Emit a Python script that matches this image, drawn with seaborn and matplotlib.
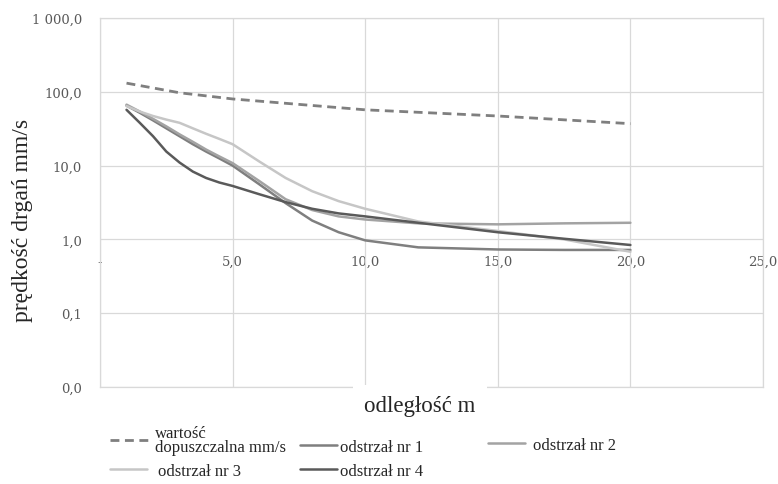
import pandas as pd
import matplotlib
matplotlib.use("Agg")
import matplotlib.pyplot as plt
import seaborn as sns

# DATA
dist_limit = [1, 3, 5, 10, 15, 20]
limit_vals = [131, 97, 80, 57, 47, 37]

dist_shot = [1, 1.5, 2, 2.5, 3, 3.5, 4, 4.5, 5, 6, 7, 8, 9, 10, 12, 15, 17.5, 20]
shot_1 = [65, 52, 41, 32, 25, 19.5, 15.5, 12.5, 10, 5.6, 3.1, 1.8, 1.25, 0.97, 0.78, 0.73, 0.72, 0.72]
shot_2 = [67, 54, 43, 34, 26.5, 21, 16.5, 13.3, 10.8, 6.2, 3.5, 2.5, 2.05, 1.86, 1.65, 1.6, 1.65, 1.68]
shot_3 = [64, 54, 47, 42, 38, 32, 27, 23, 19.5, 11.4, 6.8, 4.5, 3.3, 2.6, 1.75, 1.3, 1.0, 0.68]
shot_4 = [57, 38, 25, 15.5, 11, 8.3, 6.8, 5.9, 5.3, 4.1, 3.2, 2.6, 2.25, 2.05, 1.68, 1.25, 1.02, 0.84]

limit_label = "wartość\ndopuszczalna mm/s"
shot_labels = ["odstrzał nr 1", "odstrzał nr 2", "odstrzał nr 3", "odstrzał nr 4"]
shot_colors = ["#7f7f7f", "#a3a3a3", "#c6c6c6", "#5a5a5a"]

x_ticks = [0, 5, 10, 15, 20, 25]
x_ticklabels = ["-", "5,0", "10,0", "15,0", "20,0", "25,0"]
y_ticks = [0.01, 0.1, 1, 10, 100, 1000]
y_ticklabels = ["0,0", "0,1", "1,0", "10,0", "100,0", "1 000,0"]

W, H = 778, 485
GRID = "#d9d9d9"
TICK_COLOR = "#595959"

sns.set_style("white")
plt.rcParams["font.family"] = ["Liberation Serif", "DejaVu Serif"]

fig = plt.figure(figsize=(W / 100, H / 100), dpi=100)
ax = fig.add_axes([100 / W, 97 / H, 663 / W, 369 / H])

# allowable value (dashed)
df_lim = pd.DataFrame({"x": dist_limit, "y": limit_vals})
sns.lineplot(data=df_lim, x="x", y="y", ax=ax, color="#7f7f7f", lw=2.0,
             label=limit_label, sort=False)
ax.lines[-1].set_dashes([3.2, 2.0])

# blasts
for vals, lab, col in zip([shot_1, shot_2, shot_3, shot_4], shot_labels, shot_colors):
    df = pd.DataFrame({"x": dist_shot, "y": vals})
    sns.lineplot(data=df, x="x", y="y", ax=ax, color=col, lw=1.8, label=lab, sort=False)

ax.set_yscale("log")
ax.set_xlim(0, 25)
ax.set_ylim(0.01, 1000)
ax.set_xticks(x_ticks)
ax.set_xticklabels([])
ax.tick_params(axis="x", length=0)
ax.set_yticks(y_ticks)
ax.set_yticklabels(y_ticklabels, fontfamily="DejaVu Serif", fontsize=9.5, color=TICK_COLOR)
ax.yaxis.set_minor_locator(matplotlib.ticker.NullLocator())
ax.tick_params(axis="y", length=0, pad=13)
ax.grid(True, color=GRID, lw=0.9)
for sp in ax.spines.values():
    sp.set_color(GRID)
    sp.set_linewidth(0.9)
ax.set_xlabel("")

# x tick labels sit under the horizontal axis crossing at 1,0
sec = ax.secondary_xaxis(0.4)
sec.set_xticks(x_ticks)
sec.set_xticklabels(x_ticklabels, fontfamily="DejaVu Serif", fontsize=9.5, color=TICK_COLOR)
sec.tick_params(length=0, pad=11)
sec.spines["bottom"].set_visible(False)

ax.set_ylabel("prędkość drgań mm/s", fontsize=17)
ax.yaxis.set_label_coords(-0.101, 0.455)

# axis title with white box (cuts the bottom gridline like the original)
fig.text(420 / W, 1 - 407 / H, "odległość m", ha="center", va="center", fontsize=16.5,
         bbox=dict(fc="white", ec="none", pad=8))

# legend: one entry per slot, placed like the original grid
handles, labels = ax.get_legend_handles_labels()
ax.get_legend().remove()
em = 12 * 100 / 72
slots = [
    # index, handle start x, centre y, handle length, gap to text (px)
    (0, 110, 441, 38, 7),
    (1, 300, 448, 37, 3),
    (2, 488, 446, 37, 8),
    (3, 110, 472, 37, 11),
    (4, 300, 472, 37, 3),
]
for i, x0, yc, hl, gap in slots:
    leg = fig.legend([handles[i]], [labels[i]], loc="center left",
                     bbox_to_anchor=(x0 / W, 1 - yc / H), frameon=False, fontsize=12,
                     handlelength=hl / em, handletextpad=gap / em,
                     borderpad=0, borderaxespad=0)
    for t in leg.get_texts():
        t.set_linespacing(0.8)

fig.savefig("out.png", dpi=100)
